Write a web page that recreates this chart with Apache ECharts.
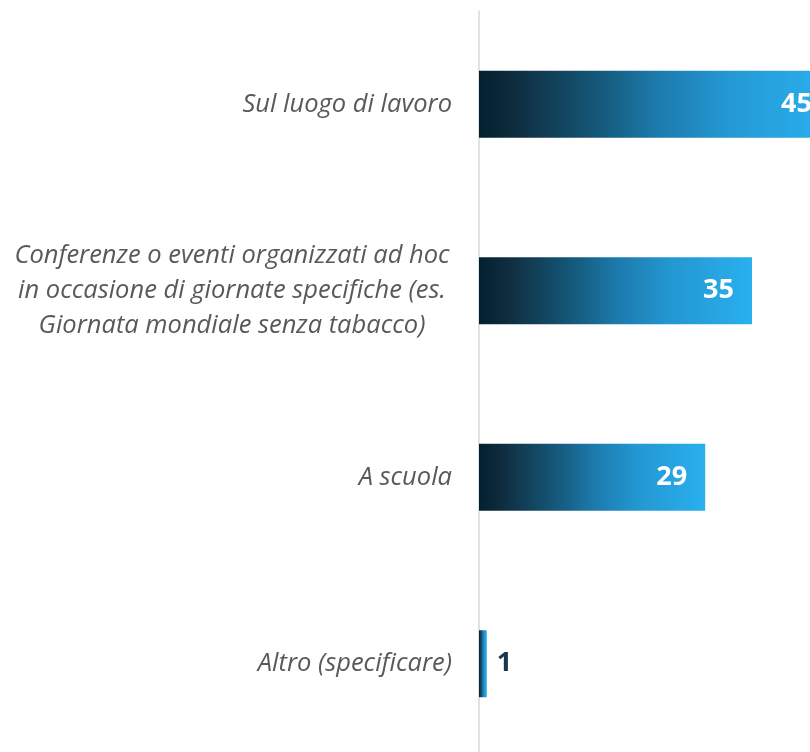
<!DOCTYPE html>
<html>
<head>
<meta charset="utf-8">
<script src="https://cdn.jsdelivr.net/npm/echarts@6/dist/echarts.min.js"></script>
<style>
  html, body { margin: 0; padding: 0; background: #fff; overflow: hidden; }
  /* the chart runs a bit past the window, as in the original */
  #chart { width: 830px; height: 757px; }
</style>
</head>
<body>
<div id="chart"></div>
<script>
  // categorie e valori (%)
  const categories = [
    'Sul luogo di lavoro',
    'Conferenze o eventi organizzati ad hoc\nin occasione di giornate specifiche (es.\nGiornata mondiale senza tabacco)',
    'A scuola',
    'Altro (specificare)'
  ];
  const values = [45, 35, 29, 1];

  let chart = echarts.init(document.getElementById('chart'));

  let barGradient = new echarts.graphic.LinearGradient(0, 0, 1, 0, [
    {offset: 0, color: '#02202f'},
    {offset: 0.1, color: '#0f2c3e'},
    {offset: 0.35, color: '#155a7c'},
    {offset: 0.5, color: '#1c79aa'},
    {offset: 0.7, color: '#2397d2'},
    {offset: 1, color: '#29b0ee'}
  ]);

  chart.setOption({
    animation: false,
    grid: {
      left: 479,
      right: 0,
      top: 11,
      bottom: 0
    },
    xAxis: {
      type: 'value',
      min: 0,
      max: 45,
      show: false
    },
    yAxis: {
      type: 'category',
      inverse: true,
      data: categories,
      axisLine: {lineStyle: {color: '#d9d9d9', width: 1.5}},
      axisTick: {show: false},
      axisLabel: {
        margin: 27,
        color: '#595959',
        fontFamily: 'Open Sans',
        fontStyle: 'italic',
        fontSize: 25.5,
        lineHeight: 35,
        formatter: function (val) {
          if (val.indexOf('\n') < 0) return val;
          return val.split('\n').map(s => '{c|' + s + '}').join('\n');
        },
        rich: {
          c: {
            width: 440,
            align: 'center',
            color: '#595959',
            fontFamily: 'Open Sans',
            fontStyle: 'italic',
            fontSize: 25.5,
            lineHeight: 35
          }
        }
      }
    },
    series: [{
      type: 'bar',
      data: values.map(v => ({
        value: v,
        label: v < 5 ? {position: 'right', distance: 10, color: '#17374a'} : {}
      })),
      barWidth: 67,
      itemStyle: {color: barGradient},
      label: {
        show: true,
        position: 'insideRight',
        distance: 18,
        color: '#ffffff',
        fontFamily: 'Open Sans',
        fontWeight: 'bold',
        fontSize: 27
      }
    }]
  });
</script>
</body>
</html>
